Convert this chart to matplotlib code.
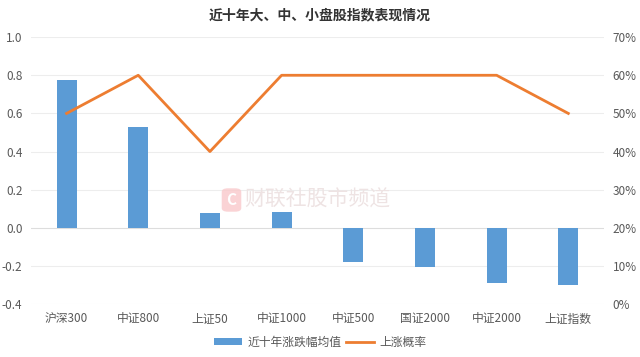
import matplotlib
matplotlib.use('Agg')
import matplotlib.pyplot as plt
from matplotlib.patches import FancyBboxPatch

plt.rcParams['font.family'] = ['Noto Sans CJK SC', 'DejaVu Sans']

categories = ['沪深300', '中证800', '上证50', '中证1000', '中证500', '国证2000', '中证2000', '上证指数']
avg_change = [0.775, 0.527, 0.08, 0.082, -0.18, -0.205, -0.29, -0.3]
up_prob = [50, 60, 40, 60, 60, 60, 60, 50]

grey = '#595959'
fig = plt.figure(figsize=(6.4, 3.57), dpi=100)
ax = fig.add_axes([0.048, 0.148, 0.896, 0.748])
x = range(len(categories))

for y in [1.0, 0.8, 0.6, 0.4, 0.2, 0.0, -0.2, -0.4]:
    ax.axhline(y, color='#EDEDED' if y != 0 else '#DDDDDD', lw=0.8, zorder=0)
bars = ax.bar(x, avg_change, width=0.28, color='#5B9BD5', label='近十年涨跌幅均值', zorder=2)
ax.set_ylim(-0.4, 1.0)
ax.set_xlim(-0.5, len(categories) - 0.5)
ax.set_yticks([-0.4, -0.2, 0.0, 0.2, 0.4, 0.6, 0.8, 1.0])
ax.set_yticklabels(['-0.4', '-0.2', '0.0', '0.2', '0.4', '0.6', '0.8', '1.0'])
ax.set_xticks(list(x))
ax.set_xticklabels(categories)
ax.tick_params(length=0, labelsize=8.5, colors=grey, pad=6)
for s in ax.spines.values():
    s.set_visible(False)

ax2 = ax.twinx()
line, = ax2.plot(x, up_prob, color='#ED7D31', lw=2, label='上涨概率', zorder=3)
ax2.set_ylim(0, 70)
ax2.set_yticks(range(0, 80, 10))
ax2.set_yticklabels([f'{v}%' for v in range(0, 80, 10)])
ax2.tick_params(length=0, labelsize=8.5, colors=grey, pad=6)
for s in ax2.spines.values():
    s.set_visible(False)

# watermark
fig.patches.append(FancyBboxPatch((223 / 640, 1 - 211 / 357), 17 / 640, 22 / 357,
                                  boxstyle='round,pad=0.002,rounding_size=0.01',
                                  transform=fig.transFigure, fc='#F9C9CB', ec='none', alpha=0.8))
fig.text(231.5 / 640, 1 - 200 / 357, 'C', color='white', fontsize=11, fontweight='bold',
         ha='center', va='center')
fig.text(244 / 640, 1 - 200 / 357, '财联社股市频道', color='#EEE3E3', fontsize=15,
         ha='left', va='center')

fig.text(0.5, 1 - 15 / 357, '近十年大、中、小盘股指数表现情况', ha='center', va='center',
         fontsize=10, fontweight='bold', color='#333333')

fig.legend(handles=[bars, line], loc='center', bbox_to_anchor=(0.5, 1 - 342 / 357), ncol=2,
           frameon=False, fontsize=8.5, labelcolor=grey, handlelength=2.4,
           handleheight=0.6, columnspacing=0.4, handletextpad=0.4)

fig.savefig('out.png', dpi=100)
